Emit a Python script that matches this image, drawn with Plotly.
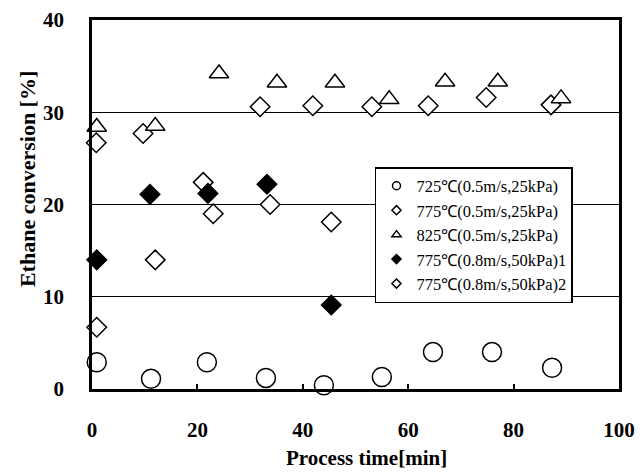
import plotly.graph_objects as go

# ---- data ----
t_725 = [0.9, 11.2, 21.8, 33.0, 44.0, 55.0, 64.7, 75.9, 87.3]
c_725 = [2.9, 1.1, 2.9, 1.2, 0.4, 1.3, 4.0, 4.0, 2.3]

t_775a = [0.8, 9.7, 21.1, 31.9, 41.9, 53.1, 63.8, 74.8, 87.1]
c_775a = [26.7, 27.7, 22.4, 30.6, 30.7, 30.6, 30.7, 31.6, 30.8]

t_825 = [0.9, 12.0, 24.1, 35.1, 46.1, 56.4, 67.0, 77.0, 89.0]
c_825 = [28.4, 28.5, 34.2, 33.2, 33.2, 31.4, 33.3, 33.3, 31.5]

t_775b1 = [0.9, 11.0, 22.0, 33.2, 45.4]
c_775b1 = [14.0, 21.1, 21.2, 22.2, 9.1]

t_775b2 = [0.9, 12.0, 23.0, 33.8, 45.4]
c_775b2 = [6.7, 14.0, 19.0, 20.0, 18.1]

names = ["725\u2103(0.5m/s,25kPa)", "775\u2103(0.5m/s,25kPa)", "825\u2103(0.5m/s,25kPa)",
         "775\u2103(0.8m/s,50kPa)1", "775\u2103(0.8m/s,50kPa)2"]

x_ticks = [0, 20, 40, 60, 80, 100]
y_ticks = [0, 10, 20, 30, 40]

FONT = "Liberation Serif, Times New Roman, serif"

series = [
    (t_725, c_725, "circle", 19, "white", 8),
    (t_775a, c_775a, "diamond", 15, "white", 7),
    (t_825, c_825, "triangle-up", 17, "white", 8),
    (t_775b1, c_775b1, "diamond", 15, "black", 7),
    (t_775b2, c_775b2, "diamond", 15, "white", 7),
]

fig = go.Figure()
for (tx, cy, sym, sz, fill, lsz), nm in zip(series, names):
    fig.add_trace(go.Scatter(
        x=tx, y=cy, mode="markers", showlegend=False,
        marker=dict(symbol=sym, size=sz, color=fill, line=dict(color="black", width=1.5)),
        cliponaxis=False))
for (tx, cy, sym, sz, fill, lsz), nm in zip(series, names):
    fig.add_trace(go.Scatter(
        x=[None], y=[None], mode="markers", name=nm, showlegend=True,
        marker=dict(symbol=sym, size=lsz, color=fill, line=dict(color="black", width=1.5))))

fig.update_layout(
    width=642, height=472,
    margin=dict(l=92, r=23, t=20, b=83, autoexpand=False),
    paper_bgcolor="white", plot_bgcolor="white",
    font=dict(family=FONT, color="black"),
    legend=dict(x=0.537, y=0.6016, xanchor="left", yanchor="top",
                bgcolor="white", bordercolor="black", borderwidth=1.5,
                font=dict(size=16.5, family=FONT), itemwidth=30,
                traceorder="normal"),
    xaxis=dict(range=[0, 100], tickvals=x_ticks, ticks="inside", ticklen=5,
               tickwidth=1.5, tickcolor="black", showgrid=False, zeroline=False,
               showline=True, linecolor="black", linewidth=2.5, mirror=True,
               automargin=False,
               tickfont=dict(size=21, family=FONT, weight="bold"),
               ticklabelstandoff=20),
    yaxis=dict(range=[0, 40], tickvals=y_ticks, ticks="", showgrid=True,
               gridcolor="black", gridwidth=1.2, zeroline=False,
               showline=True, linecolor="black", linewidth=2.5, mirror=True,
               automargin=False,
               tickfont=dict(size=21, family=FONT, weight="bold"),
               ticklabelstandoff=21),
    annotations=[
        dict(text="<b>Ethane conversion [%]</b>", xref="paper", yref="paper",
             x=-0.1233, y=0.569, xanchor="center", yanchor="middle",
             textangle=-90, showarrow=False, font=dict(size=22, family=FONT)),
        dict(text="<b>Process time[min]</b>", xref="paper", yref="paper",
             x=0.52, y=-0.187, xanchor="center", yanchor="middle",
             showarrow=False, font=dict(size=21, family=FONT)),
    ],
)

fig.write_html("out.html", config={"displayModeBar": False},
               post_script="document.body.style.margin='0';document.body.style.overflow='hidden';")
